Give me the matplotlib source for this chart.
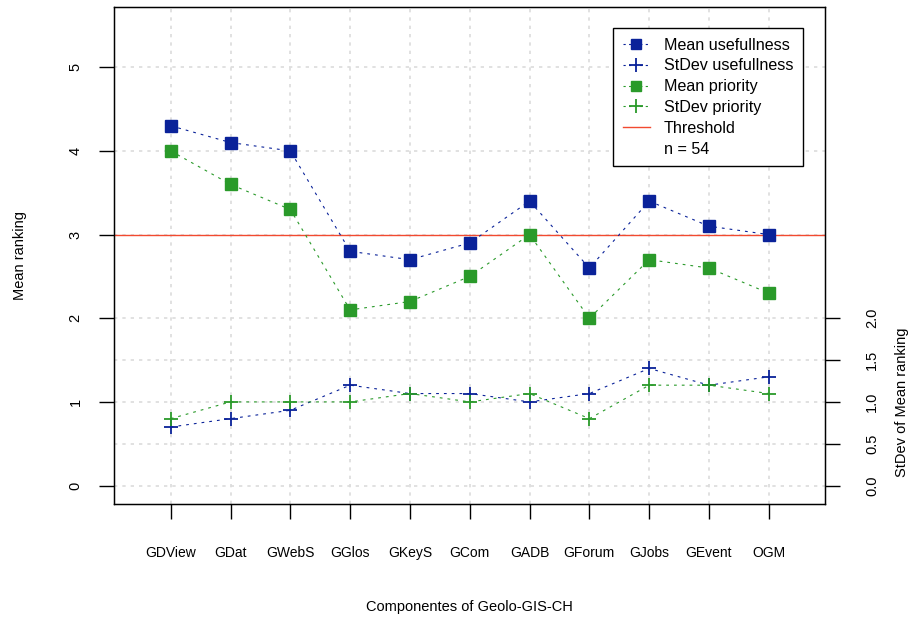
import numpy as np
import matplotlib.pyplot as plt
from matplotlib.lines import Line2D

plt.rcParams['font.family'] = ['Liberation Sans', 'DejaVu Sans']

# components on the x axis
components = ['GDView', 'GDat', 'GWebS', 'GGlos', 'GKeyS', 'GCom',
              'GADB', 'GForum', 'GJobs', 'GEvent', 'OGM']

mean_useful = [4.3, 4.1, 4.0, 2.8, 2.7, 2.9, 3.4, 2.6, 3.4, 3.1, 3.0]
sd_useful = [0.7, 0.8, 0.9, 1.2, 1.1, 1.1, 1.0, 1.1, 1.4, 1.2, 1.3]
mean_prio = [4.0, 3.6, 3.3, 2.1, 2.2, 2.5, 3.0, 2.0, 2.7, 2.6, 2.3]
sd_prio = [0.8, 1.0, 1.0, 1.0, 1.1, 1.0, 1.1, 0.8, 1.2, 1.2, 1.1]
threshold = 3
n_resp = 54

left_ticks = [0, 1, 2, 3, 4, 5]
right_ticks = [0.0, 0.5, 1.0, 1.5, 2.0]

blue = '#0A2299'
green = '#2A9A2A'
red = '#F24A30'
dots = (2.5, 4.5)

x = np.arange(1, len(components) + 1)

fig = plt.figure(figsize=(9.08, 6.19), dpi=100)
ax = fig.add_axes([0.1261, 0.1858, 0.9086 - 0.1261, 0.9887 - 0.1858])
ax.set_xlim(0.5 - 0.44, 11.5 + 0.44)
ax.set_ylim(-0.22, 5.72)

# grid: dotted grey, extra lines at the right axis ticks
for xv in x:
    ax.axvline(xv, color='#DCDCDC', lw=1.2, dashes=(2, 3), zorder=0)
for yv in sorted(set(left_ticks) | set(right_ticks)):
    ax.axhline(yv, color='#DCDCDC', lw=1.2, dashes=(2, 3), zorder=0)

ax.axhline(threshold, color=red, lw=1.0, zorder=1)

ax.plot(x, mean_useful, color=blue, lw=0.8, dashes=dots, marker='s', ms=8,
        mec=blue, mfc=blue, zorder=3)
ax.plot(x, sd_useful, color=blue, lw=0.8, dashes=dots, marker='+', ms=10,
        mew=1.3, zorder=3)
ax.plot(x, mean_prio, color=green, lw=0.8, dashes=dots, marker='s', ms=8,
        mec=green, mfc=green, zorder=3)
ax.plot(x, sd_prio, color=green, lw=0.8, dashes=dots, marker='+', ms=10,
        mew=1.3, zorder=3)

ax.set_xticks(x)
ax.set_xticklabels(components, fontsize=10)
ax.set_yticks(left_ticks)
ax.set_yticklabels([str(t) for t in left_ticks], rotation=90, va='center',
                   fontsize=10.5)
ax.tick_params(axis='x', length=11, width=1, direction='out', pad=19)
ax.tick_params(axis='y', length=11, width=1, direction='out', pad=12)
for s in ax.spines.values():
    s.set_linewidth(1)

ax.set_xlabel('Componentes of Geolo-GIS-CH', fontsize=10.5, va='center')
ax.xaxis.set_label_coords(0.5, -0.207)
ax.set_ylabel('Mean ranking', fontsize=10.5, va='center')
ax.yaxis.set_label_coords(-0.133, 0.5)

# right axis for standard deviations, same scale
ax2 = ax.twinx()
ax2.set_ylim(ax.get_ylim())
ax2.set_yticks(right_ticks)
ax2.set_yticklabels(['%.1f' % t for t in right_ticks], rotation=90,
                    va='center', fontsize=10.5)
ax2.tick_params(axis='y', length=11, width=1, direction='out', pad=18)
ax2.text(1.108, 1.0, 'StDev of Mean ranking', rotation=90, fontsize=10.5,
         ha='center', va='center',
         transform=ax2.get_yaxis_transform(which='tick1'))

handles = [
    Line2D([], [], color=blue, lw=0.8, dashes=(2, 3), marker='s', ms=7),
    Line2D([], [], color=blue, lw=0.8, dashes=(2, 3), marker='+', ms=10, mew=1.3),
    Line2D([], [], color=green, lw=0.8, dashes=(2, 3), marker='s', ms=7),
    Line2D([], [], color=green, lw=0.8, dashes=(2, 3), marker='+', ms=10, mew=1.3),
    Line2D([], [], color=red, lw=1.0),
    Line2D([], [], color='none'),
]
labels = ['Mean usefullness', 'StDev usefullness', 'Mean priority',
          'StDev priority', 'Threshold', 'n = %d' % n_resp]
leg = ax2.legend(handles, labels, loc='upper left',
                 bbox_to_anchor=(613 / 908, 1 - 28 / 619),
                 bbox_transform=fig.transFigure, borderaxespad=0,
                 fontsize=11.6, frameon=True, fancybox=False, framealpha=1,
                 edgecolor='black', handlelength=1.7, handletextpad=0.85,
                 labelspacing=0.36, borderpad=0.6)
leg.get_frame().set_linewidth(1)

fig.savefig('out.png', dpi=100)
